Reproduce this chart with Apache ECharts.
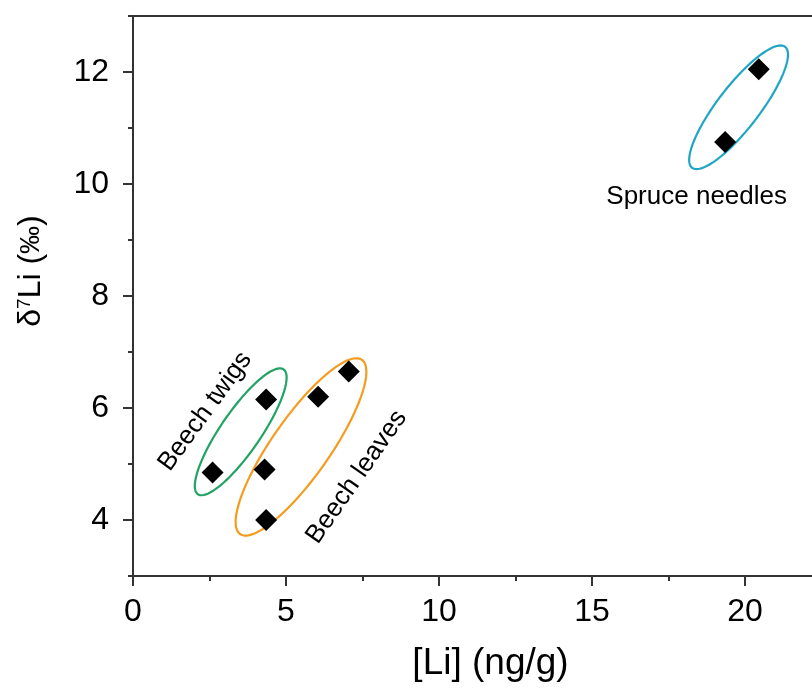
<!DOCTYPE html>
<html>
<head>
<meta charset="utf-8">
<script src="https://cdn.jsdelivr.net/npm/echarts@6/dist/echarts.min.js"></script>
<style>
  html, body { margin: 0; padding: 0; background: #fff; }
  #chart { width: 812px; height: 688px; }
</style>
</head>
<body>
<div id="chart"></div>
<script>
// Li concentration (ng/g) and δ7Li (‰) per sample group
const twigLi = [2.6, 4.35];
const twigD7 = [4.85, 6.15];
const leafLi = [4.3, 4.35, 6.05, 7.05];
const leafD7 = [4.9, 4.0, 6.2, 6.65];
const spruceLi = [19.35, 20.45];
const spruceD7 = [10.75, 12.05];

const groupNames = ['Beech twigs', 'Beech leaves', 'Spruce needles'];
const xTickLabels = [0, 5, 10, 15, 20];
const yTickLabels = [4, 6, 8, 10, 12];

const FONT = 'Liberation Sans, Arial, sans-serif';
const AXIS_COLOR = '#333';

function pairs(xs, ys) { return xs.map((x, i) => [x, ys[i]]); }

// Outline around each group: ends of the long axis in data units, half-width in px
const outlines = [
  { from: [2.12, 4.46], to: [4.92, 6.69], half: 20, color: '#22a363' },
  { from: [3.50, 3.75], to: [7.48, 6.86], half: 29, color: '#f39c1e' },
  { from: [18.27, 10.29], to: [21.31, 12.45], half: 21, color: '#1fa6c4' }
];
// Group captions: anchor in data units, rotation in degrees
const captions = [
  { at: [2.36, 5.94], rot: 54 },
  { at: [7.31, 4.77], rot: 55 },
  { at: [18.42, 9.77], rot: 0 }
];

const chart = echarts.init(document.getElementById('chart'));

const option = {
  backgroundColor: '#fff',
  animation: false,
  grid: {
    left: 133, top: 16, right: -86, bottom: 112,
    outerBoundsMode: 'none',
    containLabel: false,
    show: true, borderColor: AXIS_COLOR, borderWidth: 2,
    backgroundColor: 'transparent'
  },
  xAxis: {
    type: 'value', min: 0, max: 25, interval: 5,
    name: '[Li] (ng/g)', nameLocation: 'middle', nameGap: 69,
    nameTextStyle: { fontFamily: FONT, fontSize: 37, color: '#000', padding: [0, 50, 0, 0] },
    axisLine: { show: true, onZero: false, lineStyle: { color: AXIS_COLOR, width: 2 } },
    axisTick: { show: true, length: 10, lineStyle: { color: AXIS_COLOR, width: 2 } },
    minorTick: { show: true, splitNumber: 2, length: 5, lineStyle: { color: AXIS_COLOR, width: 2 } },
    axisLabel: {
      fontFamily: FONT, fontSize: 32, color: '#000', margin: 20,
      formatter: v => (xTickLabels.indexOf(v) >= 0 ? String(v) : '')
    },
    splitLine: { show: false }
  },
  yAxis: [
    {
      type: 'value', min: 3, max: 13, interval: 1,
      name: '{d|δ}{s|7}{d|Li (}{p|‰}{d|)}', nameLocation: 'middle', nameGap: 86,
      nameTextStyle: {
        padding: [0, 0, 0, 50],
        rich: {
          d: { fontFamily: FONT, fontSize: 32, color: '#000' },
          p: { fontFamily: FONT, fontSize: 28, color: '#000' },
          s: { fontFamily: FONT, fontSize: 19, color: '#000', verticalAlign: 'top', padding: [0, 0, 12, 0] }
        }
      },
      axisLine: { show: true, onZero: false, lineStyle: { color: AXIS_COLOR, width: 2 } },
      axisTick: { show: true, length: 5, lineStyle: { color: AXIS_COLOR, width: 2 } },
      axisLabel: { show: false },
      splitLine: { show: false }
    },
    {
      type: 'value', min: 3, max: 13, position: 'left',
      axisLine: { show: false },
      axisTick: { show: true, length: 10, customValues: yTickLabels, lineStyle: { color: AXIS_COLOR, width: 2 } },
      axisLabel: { fontFamily: FONT, fontSize: 32, color: '#000', margin: 24, customValues: yTickLabels },
      splitLine: { show: false }
    }
  ],
  series: [
    {
      name: 'outlines', type: 'custom', coordinateSystem: 'cartesian2d', silent: true, z: 1,
      data: outlines.map(o => [o.from[0], o.from[1], o.to[0], o.to[1]]),
      encode: { x: [0, 2], y: [1, 3] },
      renderItem: function (params, api) {
        const o = outlines[params.dataIndex];
        const p1 = api.coord([api.value(0), api.value(1)]);
        const p2 = api.coord([api.value(2), api.value(3)]);
        const cx = (p1[0] + p2[0]) / 2, cy = (p1[1] + p2[1]) / 2;
        const a = Math.hypot(p2[0] - p1[0], p2[1] - p1[1]) / 2;
        const phi = Math.atan2(p2[1] - p1[1], p2[0] - p1[0]);
        const b = o.half;
        const pts = [];
        for (let k = 0; k < 120; k++) {
          const t = (k / 120) * Math.PI * 2;
          const ex = a * Math.cos(t), ey = b * Math.sin(t);
          pts.push([cx + ex * Math.cos(phi) - ey * Math.sin(phi), cy + ex * Math.sin(phi) + ey * Math.cos(phi)]);
        }
        return {
          type: 'polygon',
          shape: { points: pts },
          style: { fill: 'none', stroke: o.color, lineWidth: 2.2 }
        };
      }
    },
    {
      name: 'captions', type: 'custom', coordinateSystem: 'cartesian2d', silent: true, z: 3,
      data: captions.map(c => [c.at[0], c.at[1]]),
      renderItem: function (params, api) {
        const c = captions[params.dataIndex];
        const p = api.coord([api.value(0), api.value(1)]);
        return {
          type: 'text',
          x: p[0], y: p[1],
          rotation: c.rot * Math.PI / 180,
          style: {
            text: groupNames[params.dataIndex],
            fontFamily: FONT, fontSize: 26, fill: '#000',
            align: 'center', verticalAlign: 'middle'
          }
        };
      }
    },
    {
      name: groupNames[0], type: 'scatter', symbol: 'diamond', symbolSize: 22, z: 5,
      itemStyle: { color: '#000', opacity: 1 }, data: pairs(twigLi, twigD7)
    },
    {
      name: groupNames[1], type: 'scatter', symbol: 'diamond', symbolSize: 22, z: 5,
      itemStyle: { color: '#000', opacity: 1 }, data: pairs(leafLi, leafD7)
    },
    {
      name: groupNames[2], type: 'scatter', symbol: 'diamond', symbolSize: 22, z: 5,
      itemStyle: { color: '#000', opacity: 1 }, data: pairs(spruceLi, spruceD7)
    }
  ]
};

chart.setOption(option);
</script>
</body>
</html>
